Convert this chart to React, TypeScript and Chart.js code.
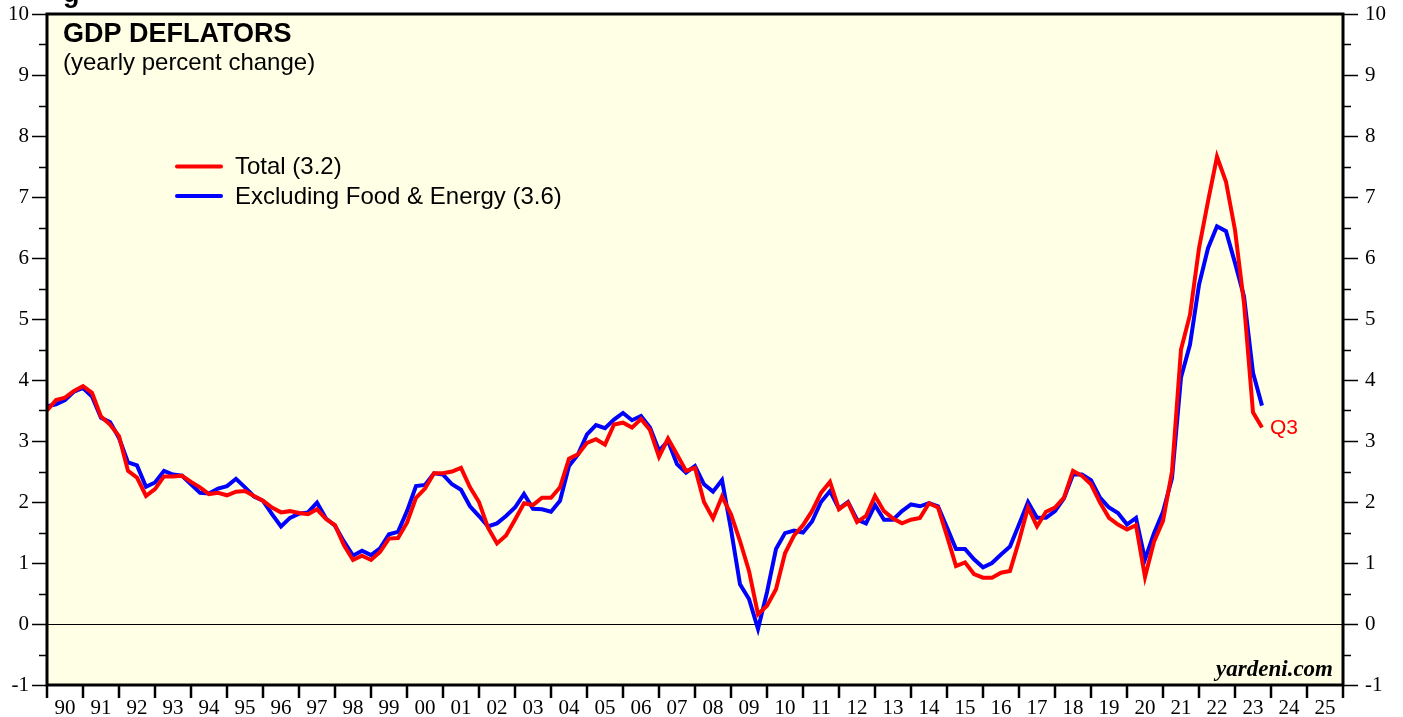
import React, { useEffect, useRef } from "react";
import { Chart, registerables } from "chart.js";

Chart.register(...registerables);

// First observation is 1989 Q4; each value is one quarter later (year-over-year % change).
const firstYear = 1989;
const firstQuarter = 4;

// GDP deflator, total (yearly % change), 1989Q4 .. 2023Q3
const totalDeflator = [
  3.5, 3.67, 3.71, 3.82, 3.9, 3.79, 3.4, 3.27, 3.08, 2.51,
  2.4, 2.1, 2.21, 2.42, 2.42, 2.43, 2.33, 2.24, 2.13, 2.15,
  2.11, 2.17, 2.18, 2.1, 2.02, 1.91, 1.83, 1.85, 1.82, 1.8,
  1.88, 1.72, 1.62, 1.29, 1.05, 1.12, 1.05, 1.18, 1.4, 1.41,
  1.66, 2.07, 2.22, 2.47, 2.47, 2.5, 2.56, 2.24, 2.0, 1.58,
  1.32, 1.45, 1.71, 1.98, 1.95, 2.07, 2.07, 2.24, 2.71, 2.78,
  2.97, 3.03, 2.94, 3.27, 3.3, 3.22, 3.36, 3.18, 2.74, 3.04,
  2.78, 2.51, 2.56, 2.0, 1.73, 2.09, 1.8, 1.36, 0.87, 0.16,
  0.3, 0.57, 1.16, 1.45, 1.62, 1.85, 2.15, 2.33, 1.88, 1.99,
  1.67, 1.77, 2.1, 1.85, 1.73, 1.65, 1.71, 1.74, 1.98, 1.91,
  1.44, 0.95, 1.01, 0.82, 0.76, 0.76, 0.84, 0.87, 1.36, 1.91,
  1.6, 1.84, 1.91, 2.07, 2.51, 2.43, 2.29, 1.99, 1.74, 1.63,
  1.55, 1.62, 0.77, 1.35, 1.69, 2.5, 4.5, 5.07, 6.16, 6.93,
  7.66, 7.25, 6.46, 5.26, 3.47, 3.22,
];

// GDP deflator excluding food & energy (yearly % change), 1989Q4 .. 2023Q3
const coreDeflator = [
  3.57, 3.6, 3.67, 3.81, 3.87, 3.73, 3.38, 3.31, 3.05, 2.65,
  2.6, 2.25, 2.32, 2.51, 2.45, 2.43, 2.29, 2.15, 2.14, 2.22,
  2.26, 2.38, 2.24, 2.09, 2.02, 1.8, 1.6, 1.74, 1.81, 1.83,
  1.99, 1.73, 1.61, 1.35, 1.12, 1.2, 1.13, 1.24, 1.47, 1.51,
  1.85, 2.26, 2.28, 2.47, 2.45, 2.29, 2.2, 1.93, 1.77, 1.6,
  1.65, 1.77, 1.91, 2.13, 1.89, 1.88, 1.84, 2.02, 2.59, 2.78,
  3.11, 3.26, 3.21, 3.35, 3.46, 3.34, 3.41, 3.22, 2.84, 3.0,
  2.62, 2.48, 2.59, 2.29, 2.17, 2.36, 1.55, 0.65, 0.41, -0.08,
  0.52, 1.23, 1.49, 1.53, 1.5, 1.68, 2.0, 2.18, 1.89, 2.0,
  1.71, 1.65, 1.95, 1.71, 1.71, 1.85, 1.96, 1.93, 1.98, 1.93,
  1.58, 1.23, 1.23, 1.06, 0.93, 1.0, 1.14, 1.27, 1.63, 2.0,
  1.74, 1.74, 1.85, 2.06, 2.45, 2.45, 2.36, 2.07, 1.91, 1.82,
  1.63, 1.74, 1.06, 1.49, 1.84, 2.39, 4.04, 4.58, 5.56, 6.16,
  6.52, 6.44, 5.92, 5.37, 4.12, 3.58,
];

const yearTickLabels = [
  "90", "91", "92", "93", "94", "95", "96", "97", "98", "99",
  "00", "01", "02", "03", "04", "05", "06", "07", "08", "09",
  "10", "11", "12", "13", "14", "15", "16", "17", "18", "19",
  "20", "21", "22", "23", "24", "25",
];

const xMin = 1990;
const xMax = 2026;
const yMin = -1;
const yMax = 10;

const seriesNames = ["Total (3.2)", "Excluding Food & Energy (3.6)"];
const lastQuarterLabel = "Q3";
const titleText = "GDP DEFLATORS";
const subtitleText = "(yearly percent change)";
const sourceText = "yardeni.com";

// quarter position = year + quarter/4 (plotted at end of quarter)
function toPoints(values: number[]) {
  return values.map((v, i) => {
    const qIndex = firstQuarter + i;
    const year = firstYear + Math.floor((qIndex - 1) / 4);
    const q = ((qIndex - 1) % 4) + 1;
    return { x: year + q / 4, y: v };
  });
}

const SERIF = '"Liberation Serif", "Times New Roman", serif';
const SANS = '"Liberation Sans", Arial, sans-serif';

const decorPlugin = {
  id: "decor",
  beforeDraw(chart: any) {
    const { ctx, chartArea: a } = chart;
    ctx.save();
    ctx.fillStyle = "#ffffe5";
    ctx.fillRect(a.left, a.top, a.right - a.left, a.bottom - a.top);
    ctx.restore();
  },
  beforeDatasetsDraw(chart: any) {
    const { ctx, chartArea: a, scales } = chart;
    const y0 = Math.round(scales.y.getPixelForValue(0)) + 0.5;
    ctx.save();
    ctx.strokeStyle = "#000";
    ctx.lineWidth = 1;
    ctx.beginPath();
    ctx.moveTo(a.left, y0);
    ctx.lineTo(a.right, y0);
    ctx.stroke();
    ctx.restore();
  },
  afterDraw(chart: any) {
    const { ctx, chartArea: a, scales } = chart;
    const xs = scales.x;
    const ys = scales.y;
    ctx.save();
    // frame
    ctx.strokeStyle = "#000";
    ctx.lineWidth = 3;
    ctx.strokeRect(a.left, a.top, a.right - a.left, a.bottom - a.top);

    // y tick marks (major + minor), both sides
    ctx.lineWidth = 1.6;
    for (let v = yMin; v <= yMax + 1e-9; v += 0.5) {
      const py = Math.round(ys.getPixelForValue(v)) + 0.5;
      const len = Number.isInteger(v) ? 15 : 8;
      ctx.beginPath();
      ctx.moveTo(a.left, py);
      ctx.lineTo(a.left - len, py);
      ctx.moveTo(a.right, py);
      ctx.lineTo(a.right + len, py);
      ctx.stroke();
    }
    // x tick marks at year boundaries
    ctx.lineWidth = 2.5;
    for (let yr = xMin; yr <= xMax; yr++) {
      const px = xs.getPixelForValue(yr);
      ctx.beginPath();
      ctx.moveTo(px, a.bottom);
      ctx.lineTo(px, a.bottom + 13);
      ctx.stroke();
    }

    // clipped text fragment at the very top
    ctx.fillStyle = "#000";
    ctx.font = `bold 27px ${SANS}`;
    ctx.textBaseline = "alphabetic";
    ctx.textAlign = "left";
    ctx.fillText("g", 63, 2);

    // title
    ctx.font = `bold 27px ${SANS}`;
    ctx.fillText(titleText, 63, 42);
    ctx.font = `24px ${SANS}`;
    ctx.fillText(subtitleText, 63, 70);

    // legend
    const legendColors = ["#ff0000", "#0000ff"];
    const legendY = [166.5, 196];
    ctx.font = `24px ${SANS}`;
    ctx.textBaseline = "middle";
    for (let i = 0; i < 2; i++) {
      ctx.strokeStyle = legendColors[i];
      ctx.lineWidth = 4;
      ctx.lineCap = "round";
      ctx.beginPath();
      ctx.moveTo(177, legendY[i]);
      ctx.lineTo(221, legendY[i]);
      ctx.stroke();
      ctx.fillStyle = "#000";
      ctx.fillText(seriesNames[i], 235, legendY[i] + 1);
    }

    // last-quarter label
    const lastIdx = totalDeflator.length - 1;
    const lastPts = toPoints(totalDeflator);
    const lx = xs.getPixelForValue(lastPts[lastIdx].x);
    const ly = ys.getPixelForValue(lastPts[lastIdx].y);
    ctx.fillStyle = "#ff0000";
    ctx.font = `21px ${SANS}`;
    ctx.textBaseline = "middle";
    ctx.fillText(lastQuarterLabel, lx + 8, ly + 1);

    // source
    ctx.fillStyle = "#000";
    ctx.font = `italic bold 23px ${SERIF}`;
    ctx.textAlign = "right";
    ctx.textBaseline = "alphabetic";
    ctx.fillText(sourceText, a.right - 10, a.bottom - 9);
    ctx.restore();
  },
};

export default function App() {
  const canvasRef = useRef<HTMLCanvasElement | null>(null);

  useEffect(() => {
    document.body.style.margin = "0";
    const canvas = canvasRef.current;
    if (!canvas) return;
    const noPad = (s: any) => {
      s.paddingTop = 0;
      s.paddingBottom = 0;
      s.paddingLeft = 0;
      s.paddingRight = 0;
    };
    const yAxisCommon = {
      type: "linear" as const,
      min: yMin,
      max: yMax,
      grid: { display: false, drawTicks: false },
      border: { display: false },
    };
    const chart = new Chart(canvas, {
      type: "line",
      data: {
        datasets: [
          {
            label: seriesNames[0],
            data: toPoints(totalDeflator),
            borderColor: "#ff0000",
            borderWidth: 4,
            pointRadius: 0,
            tension: 0,
            fill: false,
            borderJoinStyle: "miter",
          },
          {
            label: seriesNames[1],
            data: toPoints(coreDeflator),
            borderColor: "#0000ff",
            borderWidth: 4,
            pointRadius: 0,
            tension: 0,
            fill: false,
            borderJoinStyle: "miter",
          },
        ],
      },
      options: {
        animation: false,
        responsive: false,
        maintainAspectRatio: false,
        layout: { padding: { top: 14, left: 0, right: 0, bottom: 0 } },
        plugins: { legend: { display: false }, tooltip: { enabled: false } },
        scales: {
          x: {
            type: "linear",
            min: xMin,
            max: xMax,
            grid: { display: false, drawTicks: false },
            border: { display: false },
            ticks: {
              stepSize: 0.5,
              autoSkip: false,
              maxRotation: 0,
              minRotation: 0,
              padding: 11,
              color: "#000",
              font: { family: SERIF, size: 21 },
              callback: (v: any) => {
                const n = Number(v);
                const k = Math.floor(n);
                return Math.abs(n - k - 0.5) < 1e-6 ? yearTickLabels[k - xMin] ?? "" : "";
              },
            },
            afterFit: (s: any) => {
              s.height = 32;
              noPad(s);
            },
          },
          y: {
            ...yAxisCommon,
            position: "left",
            ticks: { stepSize: 1, padding: 18, color: "#000", font: { family: SERIF, size: 21 } },
            afterFit: (s: any) => {
              s.width = 47;
              noPad(s);
            },
          },
          y2: {
            ...yAxisCommon,
            position: "right",
            ticks: { stepSize: 1, padding: 22, color: "#000", font: { family: SERIF, size: 21 } },
            afterFit: (s: any) => {
              s.width = 60;
              noPad(s);
            },
          },
        },
      },
      plugins: [decorPlugin],
    } as any);
    return () => chart.destroy();
  }, []);

  return (
    <div style={{ width: 1403, height: 717, background: "#fff" }}>
      <canvas ref={canvasRef} width={1403} height={717} style={{ display: "block" }} />
    </div>
  );
}
